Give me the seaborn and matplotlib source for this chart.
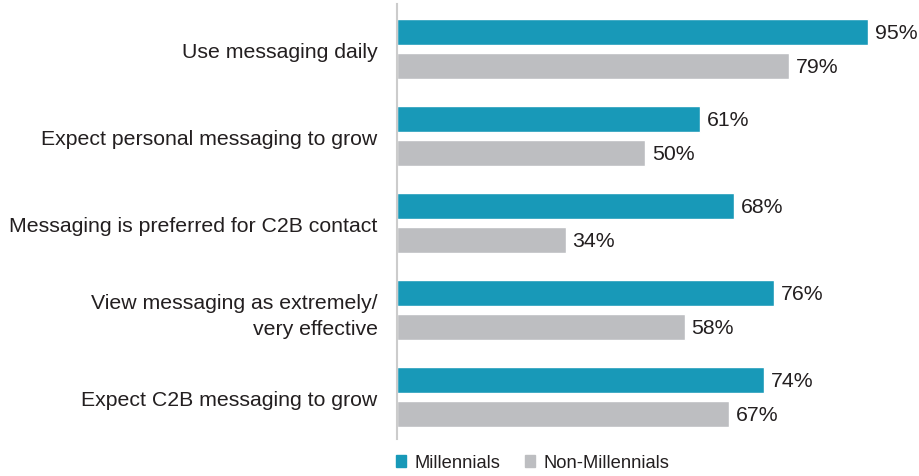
import pandas as pd
import matplotlib
matplotlib.use("Agg")
import matplotlib.pyplot as plt
import seaborn as sns

categories = [
    "Use messaging daily",
    "Expect personal messaging to grow",
    "Messaging is preferred for C2B contact",
    "View messaging as extremely/\nvery effective",
    "Expect C2B messaging to grow",
]
millennials = [95, 61, 68, 76, 74]
non_millennials = [79, 50, 34, 58, 67]
series = ["Millennials", "Non-Millennials"]
colors = ["#1899B8", "#BDBEC1"]

df = pd.DataFrame({
    "category": categories * 2,
    "value": millennials + non_millennials,
    "group": [series[0]] * len(categories) + [series[1]] * len(categories),
})

sns.set_style("white")
plt.rcParams["font.family"] = ["Liberation Sans", "DejaVu Sans"]

fig = plt.figure(figsize=(9.19, 4.77), dpi=100)
ax = fig.add_axes([397 / 919, 1 - 440 / 477, 1 - 397 / 919 - 0.004, 435 / 477])

sns.barplot(data=df, x="value", y="category", hue="group", order=categories,
            hue_order=series, palette=colors, orient="h", width=0.78, gap=0.235,
            saturation=1, errorbar=None, legend=False, ax=ax)

for cont in ax.containers:
    ax.bar_label(cont, labels=[f"{v:.0f}%" for v in cont.datavalues],
                 padding=5, fontsize=15.3, color="#231F20")

ax.set_xlim(0, 104.5)
ax.set_ylim(4.48, -0.52)
ax.set_xlabel("")
ax.set_ylabel("")
ax.set_xticks([])
ax.tick_params(axis="y", length=0, pad=14, labelsize=15.3, labelcolor="#231F20")
for lab in ax.get_yticklabels():
    lab.set_horizontalalignment("right")
    lab.set_linespacing(1.45)
for s in ["top", "right", "bottom"]:
    ax.spines[s].set_visible(False)
ax.spines["left"].set_color("#CCCCCC")
ax.spines["left"].set_linewidth(1.5)

handles = [plt.Rectangle((0, 0), 1, 1, color=c) for c in colors]
fig.legend(handles, series, loc="center left", bbox_to_anchor=(396 / 919, 1 - 464 / 477),
           ncol=2, frameon=False, fontsize=13.2, handlelength=0.55, handleheight=0.55,
           handletextpad=0.45, columnspacing=1.35, labelcolor="#231F20",
           borderpad=0, borderaxespad=0)

fig.savefig("out.png", dpi=100)
